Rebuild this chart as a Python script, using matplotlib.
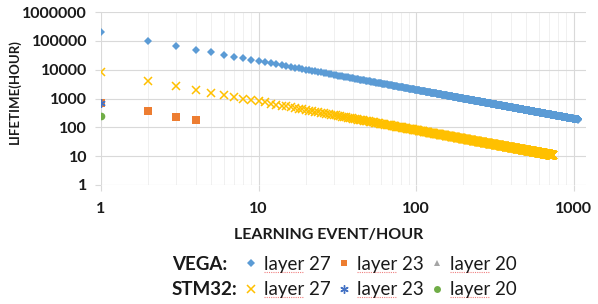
import numpy as np
import matplotlib.pyplot as plt
from matplotlib.lines import Line2D
from matplotlib.ticker import FixedLocator, FuncFormatter, LogLocator, NullFormatter

plt.rcParams['font.family'] = ['Lato', 'DejaVu Sans']

# lifetime (hours) = endurance budget / learning events per hour
event_rate = np.arange(1, 1071)          # VEGA layer 27 events/hour
event_rate_stm = np.arange(1, 741)       # STM32 layer 27 events/hour
vega_l27_budget = 200000
stm_l27_budget = 8000

vega_l23_x = [1, 2, 3, 4]
vega_l23_y = [700, 370, 235, 180]
vega_l20_x = [1]
vega_l20_y = [700]
stm_l23_x = [1]
stm_l23_y = [700]
stm_l20_x = [1]
stm_l20_y = [240]

vega_l27_y = vega_l27_budget / event_rate
stm_l27_y = stm_l27_budget / event_rate_stm

y_ticks = [1, 10, 100, 1000, 10000, 100000, 1000000]
x_ticks = [1, 10, 100, 1000]

c_blue = '#5B9BD5'
c_orange = '#ED7D31'
c_gray = '#A5A5A5'
c_yellow = '#FFC000'
c_star = '#4472C4'
c_green = '#70AD47'
c_text = '#1a1a1a'

fig = plt.figure(figsize=(5.98, 3.04), dpi=100)
ax = fig.add_axes([101 / 598, 1 - 185 / 304, 485 / 598, 173 / 304])

ax.plot(event_rate, vega_l27_y, 'D', color=c_blue, ms=4, mew=0, zorder=3)
ax.plot(event_rate_stm, stm_l27_y, 'x', color=c_yellow, ms=5.5, mew=1.1, zorder=3)
ax.plot(vega_l23_x, vega_l23_y, 's', color=c_orange, ms=5.5, mew=0, zorder=4)
ax.plot(vega_l20_x, vega_l20_y, '^', color=c_gray, ms=5.5, mew=0, zorder=3)
ax.plot(stm_l23_x, stm_l23_y, marker=(6, 2, 0), ls='none', color=c_star,
        ms=6, mew=1.0, zorder=5)
ax.plot(stm_l20_x, stm_l20_y, 'o', color=c_green, ms=5.5, mew=0, zorder=4)

ax.set_xscale('log')
ax.set_yscale('log')
ax.set_xlim(1, 1200)
ax.set_ylim(1, 1000000)
ax.xaxis.set_major_locator(FixedLocator(x_ticks))
ax.yaxis.set_major_locator(FixedLocator(y_ticks))
ax.xaxis.set_minor_locator(LogLocator(subs=np.arange(2, 10)))
ax.yaxis.set_minor_locator(LogLocator(subs=np.arange(2, 10)))
ax.xaxis.set_minor_formatter(NullFormatter())
ax.yaxis.set_minor_formatter(NullFormatter())
fmt = FuncFormatter(lambda v, p: f'{int(round(v))}')
ax.xaxis.set_major_formatter(fmt)
ax.yaxis.set_major_formatter(fmt)

ax.grid(True, which='major', color='#D9D9D9', lw=0.8, zorder=0)
ax.grid(True, which='minor', color='#F0F0F0', lw=0.7, zorder=0)
ax.set_axisbelow(True)
for s in ax.spines.values():
    s.set_visible(False)
ax.tick_params(which='major', length=4, color='#D9D9D9', labelsize=11.5,
               labelcolor=c_text)
ax.tick_params(axis='y', pad=6)
ax.tick_params(axis='x', pad=8)
ax.tick_params(which='minor', length=0)
for lbl in ax.get_xticklabels() + ax.get_yticklabels():
    lbl.set_fontweight('bold')

ax.set_xlabel('LEARNING EVENT/HOUR', fontsize=11.5, fontweight='bold', color=c_text)
ax.set_ylabel('LIFETIME(HOUR)', fontsize=9.5, fontweight='bold', color=c_text)
ax.xaxis.set_label_coords(0.47, -0.25)
ax.yaxis.set_label_coords(-0.165, 0.54)

# legend: row labels in first column, then the three layers
blank = Line2D([], [], linestyle='none')
handles = [
    blank, blank,
    Line2D([], [], marker='D', color=c_blue, ms=4, mew=0, ls='none'),
    Line2D([], [], marker='x', color=c_yellow, ms=5.5, mew=1.1, ls='none'),
    Line2D([], [], marker='s', color=c_orange, ms=5, mew=0, ls='none'),
    Line2D([], [], marker=(6, 2, 0), color=c_star, ms=6, mew=1.0, ls='none'),
    Line2D([], [], marker='^', color=c_gray, ms=5, mew=0, ls='none'),
    Line2D([], [], marker='o', color=c_green, ms=5, mew=0, ls='none'),
]
labels = ['VEGA:', 'STM32:', 'layer 27', 'layer 27', 'layer 23', 'layer 23',
          'layer 20', 'layer 20']
leg = fig.legend(handles, labels, ncol=4, loc='lower left',
                 bbox_to_anchor=(138 / 598, -0.025), frameon=False,
                 fontsize=13.5, handlelength=0.8, handletextpad=0.3,
                 columnspacing=0.3, labelspacing=0.45, borderpad=0.2,
                 labelcolor=c_text)
for t in leg.get_texts()[:2]:
    t.set_fontweight('bold')

# spell-check underline beneath each "layer"
fig.canvas.draw()
inv = fig.transFigure.inverted()
for t in leg.get_texts()[2:]:
    bb = t.get_window_extent().transformed(inv)
    x0 = bb.x0
    x1 = bb.x0 + bb.width * 0.6
    y = bb.y0 + 1.5 / 304
    fig.add_artist(Line2D([x0, x1], [y, y], transform=fig.transFigure,
                          color='#F08080', lw=0.8, ls=(0, (1, 1))))

fig.savefig('out.png', dpi=100)
